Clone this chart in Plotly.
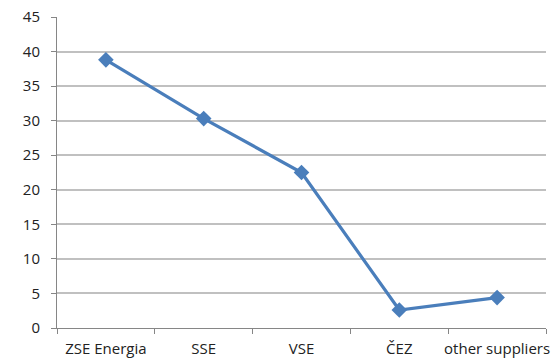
import plotly.graph_objects as go

categories = ["ZSE Energia", "SSE", "VSE", "ČEZ", "other suppliers"]
values = [38.8, 30.3, 22.5, 2.6, 4.4]
y_ticks = [0, 5, 10, 15, 20, 25, 30, 35, 40, 45]

fig = go.Figure()
fig.add_trace(go.Scatter(
    x=categories, y=values, mode="lines+markers",
    line=dict(color="#4a7ebb", width=3.2),
    marker=dict(symbol="diamond", size=12, color="#4a7ebb"),
))

fig.update_layout(
    width=552, height=360,
    margin=dict(l=57, r=6, t=17, b=32),
    paper_bgcolor="white", plot_bgcolor="white",
    showlegend=False,
    font=dict(family="Open Sans, Liberation Sans, sans-serif", size=15, color="#222"),
    xaxis=dict(
        type="category", tickson="boundaries", ticks="outside", ticklen=5,
        tickcolor="#868686", showline=True, linecolor="#868686", linewidth=1,
        showgrid=False, tickfont=dict(size=15, color="#222"),
        range=[-0.5, 4.5], ticklabelstandoff=7, tickangle=0, automargin=False,
    ),
    yaxis=dict(
        range=[0, 45], tickvals=y_ticks, ticks="outside", ticklen=5,
        tickcolor="#868686", showline=True, linecolor="#868686", linewidth=1,
        showgrid=True, gridcolor="#c0c0c0", gridwidth=1.5, zeroline=False,
        tickfont=dict(size=15, color="#222"), ticklabelstandoff=8, automargin=False,
    ),
)

fig.write_html("out.html")
